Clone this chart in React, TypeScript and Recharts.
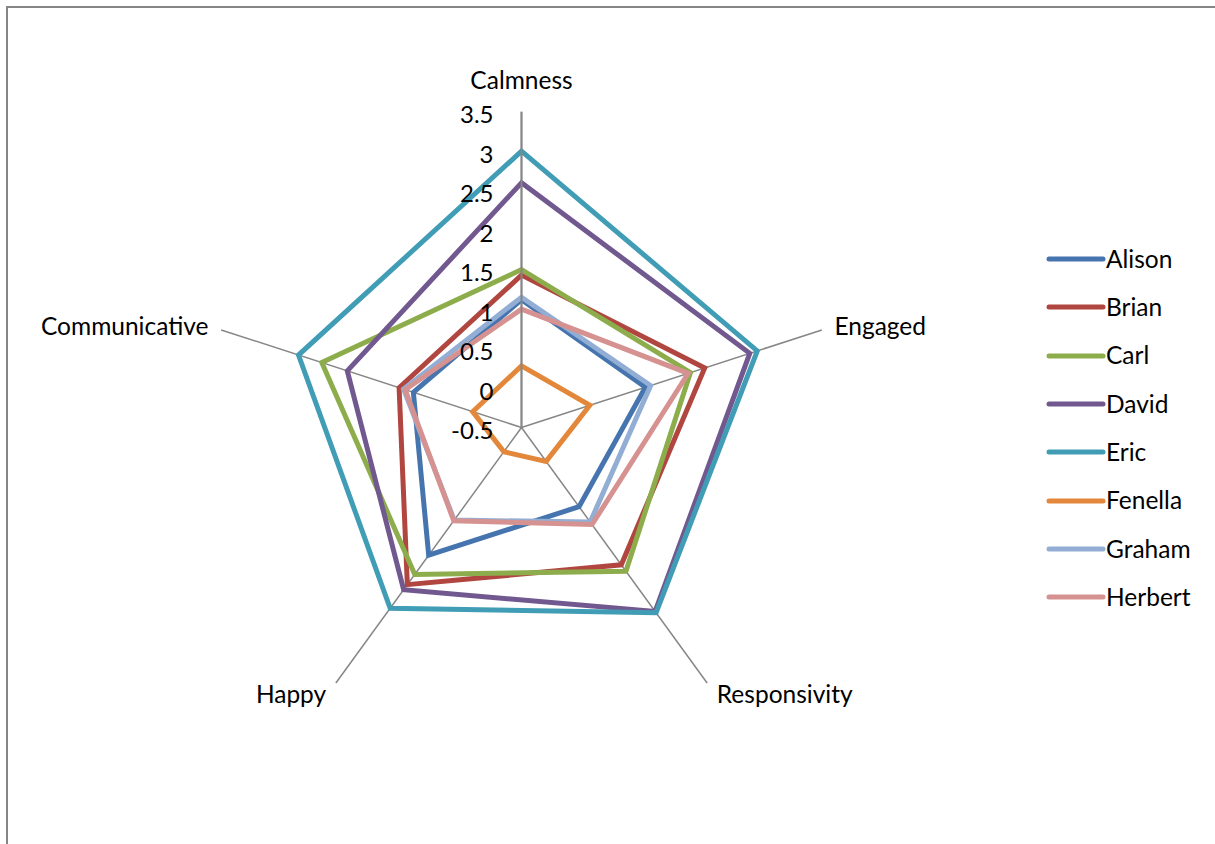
import React from "react";
import {
  Legend,
  PolarAngleAxis,
  PolarGrid,
  PolarRadiusAxis,
  Radar,
  RadarChart,
} from "recharts";

// categories around the web, clockwise from the top
const axes = ["Calmness", "Engaged", "Responsivity", "Happy", "Communicative"];

// one score per category, same order as `axes`
const alison = [1.12, 1.15, 0.74, 1.5, 0.94];
const brian = [1.43, 1.94, 1.65, 1.96, 1.13];
const carl = [1.5, 1.75, 1.75, 1.8, 2.16];
const david = [2.6, 2.54, 2.38, 2.04, 1.82];
const eric = [3.0, 2.64, 2.4, 2.33, 2.47];
const fenella = [0.28, 0.41, 0.03, -0.12, 0.15];
const graham = [1.15, 1.22, 0.98, 0.95, 1.07];
const herbert = [1.0, 1.72, 1.02, 0.96, 1.05];

// value axis labels, bottom (centre) to top
const radiusTicks = [-0.5, 0, 0.5, 1, 1.5, 2, 2.5, 3, 3.5];

const series = [
  { key: "Alison", values: alison, color: "#4574AE" },
  { key: "Brian", values: brian, color: "#B0463F" },
  { key: "Carl", values: carl, color: "#8DAD4C" },
  { key: "David", values: david, color: "#71588F" },
  { key: "Eric", values: eric, color: "#409DB5" },
  { key: "Fenella", values: fenella, color: "#E3873A" },
  { key: "Graham", values: graham, color: "#93AED4" },
  { key: "Herbert", values: herbert, color: "#D59290" },
];

const data = axes.map((axis, i) => {
  const row: Record<string, string | number> = { axis };
  series.forEach((s) => {
    row[s.key] = s.values[i];
  });
  return row;
});

const FONT = "Lato, 'Open Sans', sans-serif";
const GRID = "#868686";
const CX = 521.5;
const CY = 427.5;

function RadiusTick(props: any) {
  const { x, y, payload } = props;
  return (
    <text
      x={x - 28}
      y={y + 2}
      textAnchor="end"
      dominantBaseline="central"
      fontFamily={FONT}
      fontSize={24}
      fill="#000"
    >
      {String(payload.value)}
    </text>
  );
}

function AngleTick(props: any) {
  const { x, y, payload, textAnchor } = props;
  let tx = x;
  let ty = y;
  if (textAnchor === "middle") {
    ty = y - 24;
  } else {
    tx = textAnchor === "start" ? x + 5 : x - 5;
    ty = y < CY ? y - 2 : y + 4;
  }
  return (
    <text
      x={tx}
      y={ty}
      textAnchor={textAnchor}
      dominantBaseline="central"
      fontFamily={FONT}
      fontSize={24.5}
      fill="#000"
    >
      {payload.value}
    </text>
  );
}

function LegendList() {
  return (
    <div style={{ fontFamily: FONT, fontSize: 24.5, color: "#000" }}>
      {series.map((s) => (
        <div
          key={s.key}
          style={{ display: "flex", alignItems: "center", height: 48.3 }}
        >
          <svg width={60} height={10} style={{ display: "block" }}>
            <line
              x1={3}
              y1={5}
              x2={57}
              y2={5}
              stroke={s.color}
              strokeWidth={5}
              strokeLinecap="round"
            />
          </svg>
          <span style={{ lineHeight: 1 }}>{s.key}</span>
        </div>
      ))}
    </div>
  );
}

export default function App() {
  return (
    <div
      style={{
        position: "absolute",
        left: 0,
        top: 0,
        width: 1215,
        height: 844,
        overflow: "hidden",
        background: "#fff",
      }}
    >
      <div
        style={{
          position: "absolute",
          left: 6,
          top: 6,
          width: 1230,
          height: 860,
          borderTop: `2px solid ${GRID}`,
          borderLeft: `2px solid ${GRID}`,
        }}
      />
      <div style={{ position: "absolute", left: 0, top: 0 }}>
        <RadarChart
          width={1215}
          height={844}
          data={data}
          cx={CX}
          cy={CY}
          outerRadius={315.8}
          margin={{ top: 0, right: 0, bottom: 0, left: 0 }}
        >
          <PolarGrid
            gridType="polygon"
            polarRadius={[]}
            stroke={GRID}
            strokeWidth={1.5}
          />
          <PolarAngleAxis
            dataKey="axis"
            tick={<AngleTick />}
            tickLine={false}
            axisLine={false}
          />
          {/* fixed domain; tickCount + allowDataOverflow keep it from being widened */}
          <PolarRadiusAxis
            angle={90}
            domain={[radiusTicks[0], radiusTicks[radiusTicks.length - 1]]}
            tickCount={radiusTicks.length}
            allowDataOverflow
            allowDecimals
            tick={<RadiusTick />}
            tickLine={false}
            axisLine={{ stroke: GRID, strokeWidth: 2 }}
          />
          {series.map((s) => (
            <Radar
              key={s.key}
              name={s.key}
              dataKey={s.key}
              stroke={s.color}
              strokeWidth={5}
              fill="none"
              fillOpacity={0}
              dot={false}
              isAnimationActive={false}
            />
          ))}
          <Legend
            content={<LegendList />}
            wrapperStyle={{ position: "absolute", left: 1046, top: 235, width: 170 }}
          />
        </RadarChart>
      </div>
    </div>
  );
}
